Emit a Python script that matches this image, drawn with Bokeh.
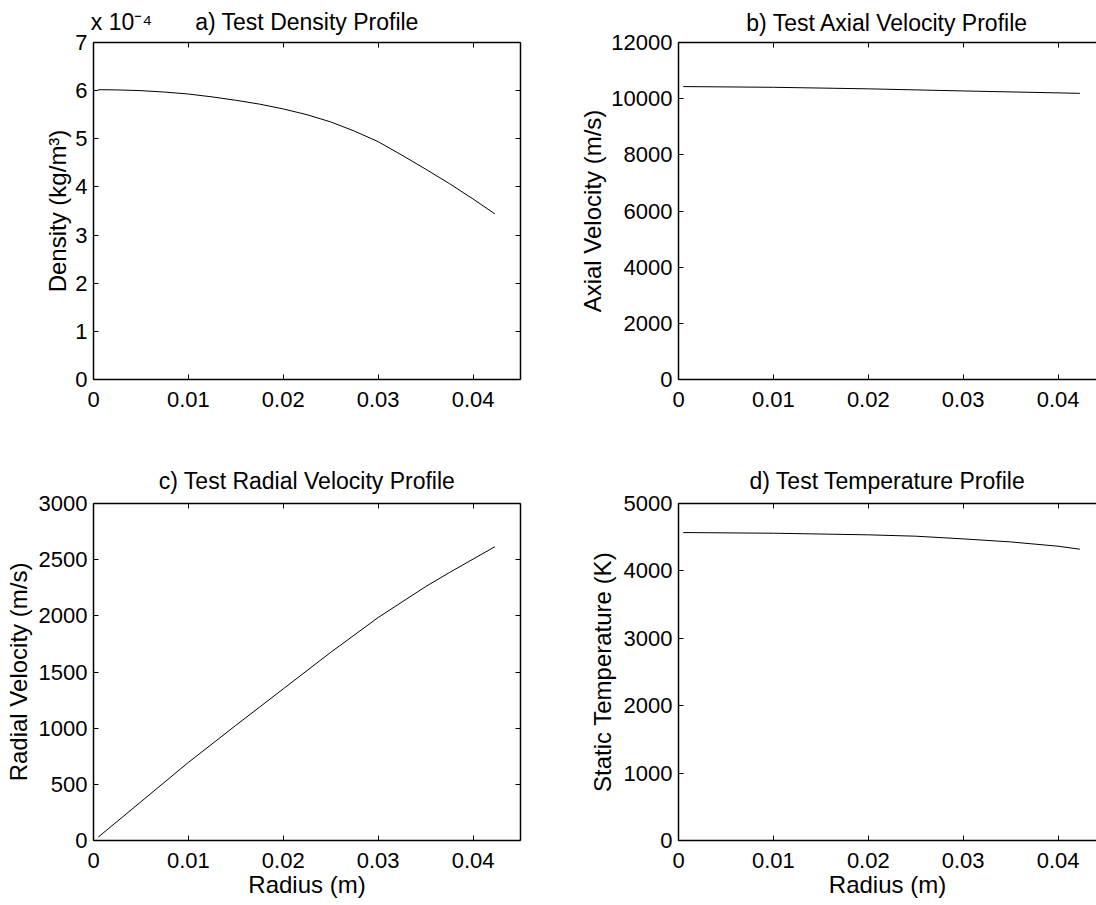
from bokeh.plotting import figure
from bokeh.models import LinearAxis, FixedTicker, CustomJSTickFormatter, Range1d
from bokeh.layouts import row, column
from bokeh.embed import file_html
from bokeh.resources import INLINE

# ---------------- data ----------------
radius_a = [0.0005, 0.0025, 0.005, 0.0075, 0.010, 0.0125, 0.015, 0.0175, 0.020, 0.0225,
            0.025, 0.0275, 0.030, 0.0325, 0.035, 0.0375, 0.040, 0.0423]
density = [6.02e-4, 6.015e-4, 6.00e-4, 5.97e-4, 5.93e-4, 5.87e-4, 5.80e-4, 5.72e-4, 5.62e-4, 5.50e-4,
           5.35e-4, 5.16e-4, 4.94e-4, 4.66e-4, 4.37e-4, 4.07e-4, 3.75e-4, 3.44e-4]

radius_b = [0.0005, 0.010, 0.020, 0.030, 0.0423]
axial_velocity = [10430, 10405, 10350, 10275, 10190]

radius_c = [0.0005, 0.005, 0.010, 0.015, 0.020, 0.025, 0.030, 0.035, 0.0375, 0.040, 0.0423]
radial_velocity = [30, 345, 695, 1025, 1350, 1675, 1985, 2260, 2385, 2505, 2615]

radius_d = [0.0005, 0.010, 0.020, 0.025, 0.030, 0.035, 0.040, 0.0423]
temperature = [4569, 4559, 4535, 4515, 4475, 4430, 4366, 4322]

x_ticks = [0, 0.01, 0.02, 0.03, 0.04]
density_ticks = [i * 1e-4 for i in range(8)]
axial_ticks = [0, 2000, 4000, 6000, 8000, 10000, 12000]
radial_ticks = [0, 500, 1000, 1500, 2000, 2500, 3000]
temp_ticks = [0, 1000, 2000, 3000, 4000, 5000]

titles = ["a) Test Density Profile", "b) Test Axial Velocity Profile",
          "c) Test Radial Velocity Profile", "d) Test Temperature Profile"]
ylabels = ["Density (kg/m\u00b3)", "Axial Velocity (m/s)", "Radial Velocity (m/s)", "Static Temperature (K)"]
xlabel = "Radius (m)"
exponent_note = "x 10\u207b\u2074"
# where the exponent note and panel a's title sit along the top edge (x, data units)
note_x = [0.00295, 0.0225]

FONT = "Liberation Sans"
FS = "22px"
LFS = "24px"
TFS = "23px"

x_fmt_code = "return tick == 0 ? '0' : tick.toFixed(2);"
int_code = "return String(Math.round(tick));"
dens_code = "return String(Math.round(tick * 1e4));"
blank_code = "return '';"


def style_axis(ax, labels=True):
    ax.axis_line_color = "black"
    ax.axis_line_width = 1.5
    ax.major_tick_line_color = "black"
    ax.major_tick_line_width = 1
    ax.major_tick_in = 5
    ax.major_tick_out = 0
    ax.minor_tick_in = 0
    ax.minor_tick_out = 0
    ax.major_label_text_font = FONT
    ax.major_label_text_color = "black"
    ax.axis_label_text_font = FONT
    ax.axis_label_text_font_size = LFS
    ax.axis_label_text_font_style = "normal"
    ax.axis_label_text_color = "black"
    if labels:
        ax.major_label_text_font_size = FS
    else:
        ax.major_label_text_font_size = "0px"
        ax.major_label_standoff = 0


def make(xs, ys, title, ylabel, yticks, yend, y_code, xend, fw,
         left, right, top, bottom, right_axis, ystandoff, with_xlabel, tstandoff):
    p = figure(output_backend="svg", toolbar_location=None,
               frame_width=fw, frame_height=337,
               x_range=Range1d(0, xend), y_range=Range1d(0, yend),
               min_border_left=left, min_border_right=right,
               min_border_top=top, min_border_bottom=bottom,
               title=title,
               x_axis_label=(xlabel if with_xlabel else None),
               y_axis_label=ylabel)
    p.grid.visible = False
    p.outline_line_color = None
    p.background_fill_color = "white"
    p.border_fill_color = "white"

    if title is not None:
        p.title.text_font = FONT
        p.title.text_font_size = TFS
        p.title.text_font_style = "normal"
        p.title.text_color = "black"
        p.title.align = "center"
        p.title.standoff = tstandoff

    xt = FixedTicker(ticks=x_ticks, minor_ticks=[])
    yt = FixedTicker(ticks=yticks, minor_ticks=[])
    xf = CustomJSTickFormatter(code=x_fmt_code)
    yf = CustomJSTickFormatter(code=y_code)
    bf = CustomJSTickFormatter(code=blank_code)

    p.xaxis.ticker = xt
    p.xaxis.formatter = xf
    p.yaxis.ticker = yt
    p.yaxis.formatter = yf
    for ax in p.xaxis:
        style_axis(ax)
        ax.major_label_standoff = 12
        ax.axis_label_standoff = 0
    for ax in p.yaxis:
        style_axis(ax)
        ax.major_label_standoff = 6
        ax.axis_label_standoff = ystandoff

    top_ax = LinearAxis(ticker=xt, formatter=bf)
    style_axis(top_ax, labels=False)
    p.add_layout(top_ax, "above")
    if right_axis:
        r_ax = LinearAxis(ticker=yt, formatter=bf)
        style_axis(r_ax, labels=False)
        p.add_layout(r_ax, "right")

    p.line(xs, ys, line_color="black", line_width=1)
    return p


pa = make(radius_a, density, None, ylabels[0], density_ticks, 7e-4, dens_code,
          0.045, 427, 93, 8, 42, 50, True, 1, False, 14)
pb = make(radius_b, axial_velocity, titles[1], ylabels[1], axial_ticks, 12000, int_code,
          0.04405, 418, 150, 0, 42, 50, False, 2, False, 14)
pc = make(radius_c, radial_velocity, titles[2], ylabels[2], radial_ticks, 3000, int_code,
          0.045, 427, 93, 8, 74, 65, True, 4, True, 19)
pd = make(radius_d, temperature, titles[3], ylabels[3], temp_ticks, 5000, int_code,
          0.04405, 418, 150, 0, 74, 65, False, 5, True, 19)

# panel a: exponent note and title written along its top edge
note_ax = LinearAxis(ticker=FixedTicker(ticks=note_x, minor_ticks=[]),
                     formatter=CustomJSTickFormatter(
                         args=dict(texts=[exponent_note, titles[0]], xs=note_x),
                         code="return tick < xs[1] ? texts[0] : texts[1];"))
note_ax.axis_line_color = None
note_ax.major_tick_line_color = None
note_ax.major_tick_in = 0
note_ax.major_tick_out = 0
note_ax.minor_tick_line_color = None
note_ax.major_label_text_font = FONT
note_ax.major_label_text_font_size = TFS
note_ax.major_label_text_color = "black"
note_ax.major_label_standoff = 8
pa.add_layout(note_ax, "above")

layout = column(row(pa, pb), row(pc, pd))

open("out.html", "w").write(file_html(layout, INLINE))
